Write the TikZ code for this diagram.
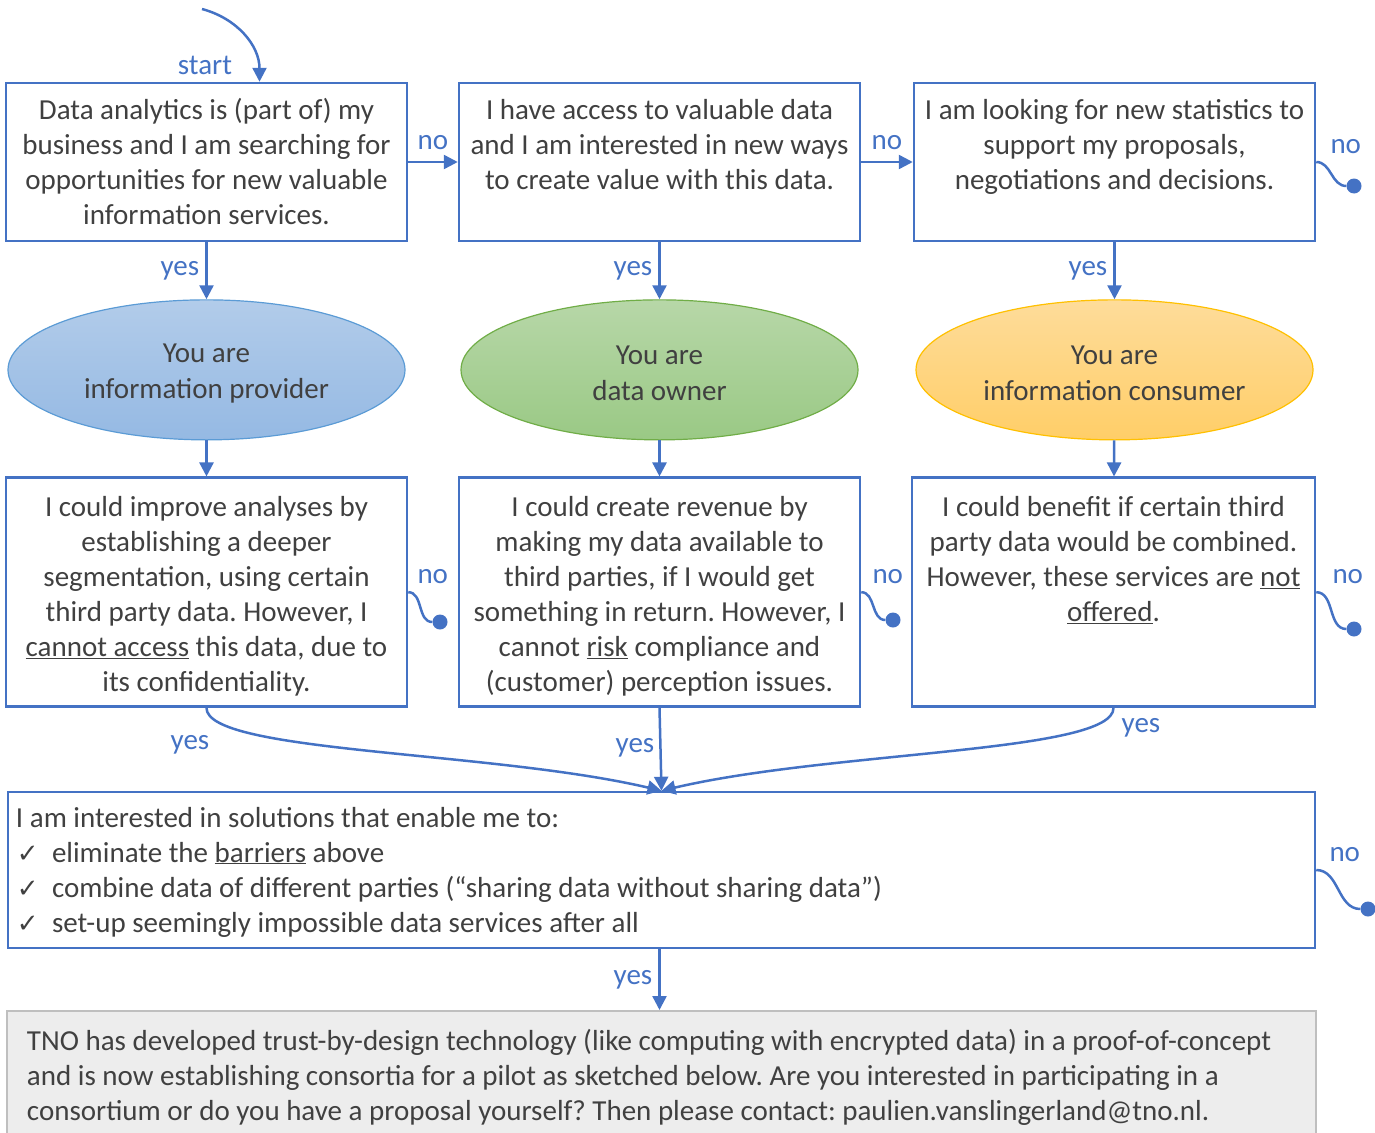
\documentclass[tikz,border=0pt]{standalone}
\usepackage{fontspec}
\setmainfont{Carlito}
\newfontfamily\symfont{DejaVu Sans}
\usetikzlibrary{arrows.meta,positioning,shapes.geometric}
\definecolor{tnoblue}{HTML}{4472C4}
\definecolor{txtgray}{HTML}{404040}
\frenchspacing
\newcommand{\boxtext}[4][36pt]{\parbox[c][#2][t]{#3}{\centering\rule{0pt}{#1}#4}}
\newcommand{\chk}{\makebox[44pt][l]{\hspace{9pt}{\symfont\fontsize{26}{35}\selectfont ✓}}}

\begin{document}
\begin{tikzpicture}[x=1pt,y=-1pt,every node/.style={font=\fontsize{29}{35}\selectfont},
  qbox/.style={draw=tnoblue,line width=2.5pt,inner sep=0pt,text=txtgray},
  role/.style={ellipse,minimum width=397pt,minimum height=140pt,inner sep=0pt,align=center,line width=1.2pt,text=txtgray,font=\fontsize{29}{36}\selectfont},
  flow/.style={draw=tnoblue,line width=2.5pt,-{Triangle[length=14pt,width=14pt]}},
  nob/.style={draw=tnoblue,line width=2.5pt},
  dot/.style={circle,fill=tnoblue,inner sep=0pt,minimum size=15pt},
  lbl/.style={text=tnoblue,inner sep=2pt},
  nolbl/.style={lbl,pos=0,anchor=south west,xshift=#1,yshift=5pt}]
\useasboundingbox (0,0) rectangle (1375,1132);
\clip (0,0) rectangle (1375,1132);

% row 1: questions
\node[qbox] (b1) at (206.5,162) {\boxtext{158pt}{401pt}{Data analytics is (part of) my\\business and I am searching for\\opportunities for new valuable\\information services.}};
\node[qbox,right=49.5pt of b1] (b2) {\boxtext{158pt}{401pt}{I have access to valuable data\\and I am interested in new ways\\to create value with this data.}};
\node[qbox,right=51.5pt of b2] (b3) {\boxtext{158pt}{401pt}{I am looking for new statistics to\\support my proposals,\\negotiations and decisions.}};

% roles
\node[role,top color={rgb,255:red,178;green,204;blue,234},bottom color={rgb,255:red,149;green,185;blue,227},draw={rgb,255:red,91;green,155;blue,213},below=57pt of b1] (e1) {\rule{0pt}{26pt}You are\\information provider};
\node[role,top color={rgb,255:red,183;green,215;blue,168},bottom color={rgb,255:red,154;green,201;blue,133},draw={rgb,255:red,112;green,173;blue,71},below=57pt of b2] (e2) {\rule{0pt}{26pt}You are\\data owner};
\node[role,top color={rgb,255:red,254;green,220;blue,154},bottom color={rgb,255:red,255;green,206;blue,104},draw={rgb,255:red,255;green,192;blue,0},below=57pt of b3] (e3) {\rule{0pt}{26pt}You are\\information consumer};

% row 2: barriers
\node[qbox,below=36pt of e1] (b4) {\boxtext[39pt]{229pt}{401pt}{I could improve analyses by\\establishing a deeper\\segmentation, using certain\\third party data. However, I\\\underline{cannot access} this data, due to\\its confidentiality.}};
\node[qbox,right=49.5pt of b4] (b5) {\boxtext[39pt]{229pt}{401pt}{I could create revenue by\\making my data available to\\third parties, if I would get\\something in return. However, I\\cannot \underline{risk} compliance and\\(customer) perception issues.}};
\node[qbox,right=49.5pt of b5] (b6) {\boxtext[39pt]{229pt}{403pt}{I could benefit if certain third\\party data would be combined.\\However, these services are \underline{not}\\\underline{offered}.}};

% solutions + contact
\node[qbox] (b7) at (661.5,870) {\parbox[c][156pt][t]{1307pt}{\rule{0pt}{35pt}\hspace{8pt}I am interested in solutions that enable me to:\\
\chk eliminate the \underline{barriers} above\\
\chk combine data of different parties (“sharing data without sharing data”)\\
\chk set-up seemingly impossible data services after all}};
\node[draw={rgb,255:red,191;green,191;blue,191},fill={rgb,255:red,237;green,237;blue,237},line width=2pt,inner sep=0pt,text=txtgray,anchor=north west] (b8) at (6,1010) {\parbox[c][140pt][t]{1309pt}{\leftskip=20pt\rule{0pt}{39pt}TNO has developed trust-by-design technology (like computing with encrypted data) in a proof-of-concept\\
and is now establishing consortia for a pilot as sketched below. Are you interested in participating in a\\
consortium or do you have a proposal yourself? Then please contact: paulien.vanslingerland@tno.nl.}};

% dead ends
\node[dot] (d1) at (1354,186) {};
\node[dot] (d2) at (440,622) {};
\node[dot] (d3) at (893,620) {};
\node[dot] (d4) at (1354,629) {};
\node[dot] (d5) at (1368,909) {};
\coordinate (s0) at (202,9);

\draw[flow] (s0) to[out=-15,in=90] ([xshift=53pt]b1.north);
\node[lbl] (startlbl) at (205,65) {start};
\draw[flow] (b1) -- node[lbl,above=9pt]{no} (b2);
\draw[flow] (b2) -- node[lbl,above=9pt]{no} (b3);
\draw[nob] (b3.east) to[out=0,in=180] node[nolbl=11pt]{no} (d1);
\draw[flow] (b1) -- node[lbl,left=4pt]{yes} (e1);
\draw[flow] (b2) -- node[lbl,left=4pt]{yes} (e2);
\draw[flow] (b3) -- node[lbl,left=4pt]{yes} (e3);
\draw[flow] (e1) -- (b4);
\draw[flow] (e2) -- (b5);
\draw[flow] (e3) -- (b6);
\draw[nob] (b4.east) to[out=0,in=180] node[nolbl=6pt]{no} (d2);
\draw[nob] (b5.east) to[out=0,in=180] node[nolbl=8pt]{no} (d3);
\draw[nob] (b6.east) to[out=0,in=180] node[nolbl=13pt]{no} (d4);
\draw[flow] (b4.south) .. controls +(0,45) and +(-170,-40) .. (b7.north);
\draw[flow] (b6.south) .. controls +(0,45) and +(170,-40) .. (b7.north);
\draw[flow] (b5.south) -- (b7.north);
\node[lbl] (yes4) at (190,745) {yes};
\node[lbl] (yes5) at (635,748) {yes};
\node[lbl] (yes6) at (1141,728) {yes};
\draw[nob] (b7.east) to[out=0,in=180] node[nolbl=10pt]{no} (d5);
\draw[flow] (b7.south -| b5) -- node[lbl,left=4pt]{yes} (b8.north -| b5);
\end{tikzpicture}
\end{document}
